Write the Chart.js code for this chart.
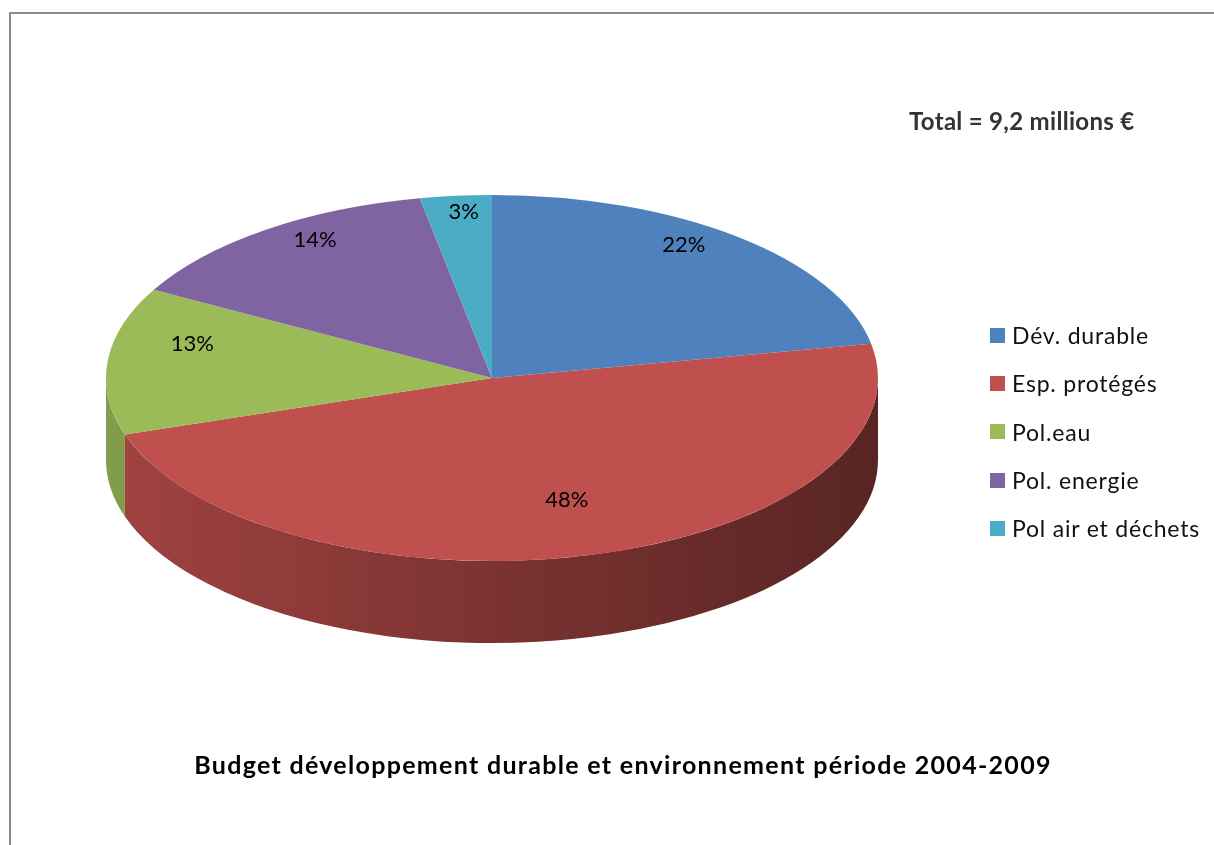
<!DOCTYPE html>
<html><head><meta charset="utf-8">
<script src="https://cdn.jsdelivr.net/npm/chart.js@4.4.1/dist/chart.umd.min.js"></script>
<style>
html,body{margin:0;padding:0;background:#fff;}
#wrap{position:relative;width:1214px;height:845px;overflow:hidden;font-family:Lato,"Open Sans",sans-serif;}
#frame{position:absolute;left:9px;top:12px;width:1300px;height:900px;border-left:2px solid #8c8c8c;border-top:2px solid #8c8c8c;}
canvas{position:absolute;left:0;top:0;}
#total{position:absolute;left:909px;top:107px;font-weight:bold;font-size:24px;letter-spacing:0.3px;color:#333;line-height:28px;white-space:nowrap;}
#legend{position:absolute;left:990px;top:311px;}
.item{height:48.3px;display:flex;align-items:center;font-size:23px;letter-spacing:0.8px;color:#111;white-space:nowrap;}
.box{width:15px;height:15px;margin-right:7px;flex:none;}
#title{position:absolute;left:0;width:1246px;top:749px;text-align:center;font-weight:bold;font-size:25px;letter-spacing:1.3px;color:#000;line-height:30px;white-space:nowrap;}
</style></head>
<body><div id="wrap">
<div id="frame"></div>
<canvas id="c" width="1214" height="845"></canvas>
<div id="total"></div>
<div id="legend"></div>
<div id="title"></div>
</div>
<script>
const categories = ['Dév. durable','Esp. protégés','Pol.eau','Pol. energie','Pol air et déchets'];
const shares = [22, 48, 13, 14, 3];
const sliceColors = ['#4F81BD','#C0504D','#9BBB59','#8064A2','#4BACC6'];
const totalLabel = 'Total = 9,2 millions €';
const chartTitle = 'Budget développement durable et environnement période 2004-2009';

const ELLIPSE = {cx:492, cy:378, rx:386, ry:183, depth:82, labelDy:-20, labelFx:0.78, labelFy:0.8};

function shade(hex, f){
  const n=parseInt(hex.slice(1),16);
  const r=Math.round(((n>>16)&255)*f), g=Math.round(((n>>8)&255)*f), b=Math.round((n&255)*f);
  return 'rgb('+r+','+g+','+b+')';
}

const pie3d = {
  id:'pie3d',
  beforeDatasetsDraw(chart){
    const ctx=chart.ctx, meta=chart.getDatasetMeta(0), e0=meta.data[0];
    const {cx,cy,rx,ry,depth}=ELLIPSE;
    meta.data.forEach((arc,i)=>{
      const color=sliceColors[i];
      [[0,Math.PI],[2*Math.PI,3*Math.PI],[-2*Math.PI,-Math.PI]].forEach(([lo,hi])=>{
        const a=Math.max(arc.startAngle,lo), b=Math.min(arc.endAngle,hi);
        if(b<=a) return;
        const grad=ctx.createLinearGradient(cx-rx,0,cx+rx,0);
        grad.addColorStop(0,shade(color,0.84));
        grad.addColorStop(0.5,shade(color,0.64));
        grad.addColorStop(1,shade(color,0.46));
        ctx.beginPath();
        ctx.ellipse(cx,cy,rx,ry,0,a,b,false);
        ctx.ellipse(cx,cy+depth,rx,ry,0,b,a,true);
        ctx.closePath();
        ctx.fillStyle=grad; ctx.fill();
      });
    });
    ctx.save();
    ctx.translate(cx,cy);
    ctx.scale(rx/e0.outerRadius, ry/e0.outerRadius);
    ctx.translate(-e0.x,-e0.y);
  },
  afterDatasetsDraw(chart){
    const ctx=chart.ctx;
    ctx.restore();
    const meta=chart.getDatasetMeta(0);
    const {cx,cy,rx,ry,labelDy,labelFx,labelFy}=ELLIPSE;
    ctx.save();
    ctx.font='22px Lato, "Open Sans", sans-serif';
    ctx.fillStyle='#000';
    ctx.textAlign='center'; ctx.textBaseline='middle';
    meta.data.forEach((arc,i)=>{
      const m=(arc.startAngle+arc.endAngle)/2;
      ctx.fillText(shares[i]+'%', cx+Math.cos(m)*rx*labelFx, cy+labelDy+Math.sin(m)*ry*labelFy);
    });
    ctx.restore();
  }
};

new Chart(document.getElementById('c'),{
  type:'pie',
  data:{labels:categories,datasets:[{data:shares,backgroundColor:sliceColors,borderWidth:0}]},
  options:{responsive:false,animation:false,events:[],
    plugins:{legend:{display:false},tooltip:{enabled:false}}},
  plugins:[pie3d]
});

document.getElementById('total').textContent=totalLabel;
document.getElementById('title').textContent=chartTitle;
const lg=document.getElementById('legend');
categories.forEach((c,i)=>{
  const it=document.createElement('div'); it.className='item';
  const b=document.createElement('span'); b.className='box'; b.style.background=sliceColors[i];
  const t=document.createElement('span'); t.textContent=c;
  it.appendChild(b); it.appendChild(t); lg.appendChild(it);
});
</script>
</body></html>
